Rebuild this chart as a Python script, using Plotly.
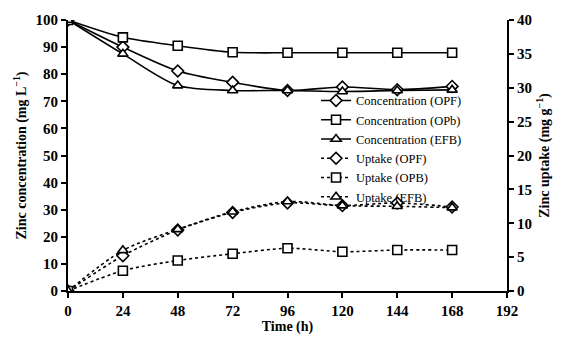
import plotly.graph_objects as go

time_h = [0, 24, 48, 72, 96, 120, 144, 168]
conc_opf = [100, 90, 81.2, 77, 74, 75.3, 74.3, 75.5]
conc_opb = [100, 93.6, 90.5, 88.1, 87.9, 87.9, 87.9, 87.9]
conc_efb = [100, 87.5, 75.8, 74, 74, 73.6, 74, 74.2]
upt_opf = [0, 5.2, 9.0, 11.6, 13.0, 12.6, 13.0, 12.4]
upt_opb = [0, 3.0, 4.5, 5.5, 6.3, 5.8, 6.05, 6.05]
upt_efb = [0, 6.0, 9.1, 11.7, 13.2, 12.6, 12.5, 12.3]

x_ticks = [0, 24, 48, 72, 96, 120, 144, 168, 192]
y_ticks = [0, 10, 20, 30, 40, 50, 60, 70, 80, 90, 100]
y2_ticks = [0, 5, 10, 15, 20, 25, 30, 35, 40]

FONT = "Liberation Serif"
fig = go.Figure()

def add(name, y, symbol, dash, axis):
    fig.add_trace(go.Scatter(
        x=time_h, y=y, name=name, yaxis=axis,
        mode="lines+markers",
        line=dict(color="black", width=1.6, dash=dash, shape="spline", smoothing=0.8),
        marker=dict(symbol=symbol, size=9, color="white", line=dict(color="black", width=1.6)),
    ))

add("Concentration (OPF)", conc_opf, "diamond", "solid", "y")
add("Concentration (OPb)", conc_opb, "square", "solid", "y")
add("Concentration (EFB)", conc_efb, "triangle-up", "solid", "y")
add("Uptake (OPF)", upt_opf, "diamond", "dot", "y2")
add("Uptake (OPB)", upt_opb, "square", "dot", "y2")
add("Uptake (EFB)", upt_efb, "triangle-up", "dot", "y2")

axis_common = dict(
    showline=True, linecolor="black", linewidth=2,
    ticks="outside", ticklen=5, tickwidth=2, tickcolor="black",
    showgrid=False, zeroline=False,
    tickfont=dict(family=FONT, size=15, color="black"),
)
title_font = dict(family=FONT, size=14, color="black")

def bold(vals):
    return ["<b>%d</b>" % v for v in vals]

fig.update_layout(
    width=562, height=341,
    margin=dict(l=68, r=53, t=20, b=46),
    plot_bgcolor="white", paper_bgcolor="white",
    font=dict(family=FONT, color="black"),
    xaxis=dict(range=[0, 192], tickvals=x_ticks, ticktext=bold(x_ticks), **axis_common,
               title=dict(text="<b>Time (h)</b>", font=title_font, standoff=0)),
    yaxis=dict(range=[0, 100], tickvals=y_ticks, ticktext=bold(y_ticks), **axis_common,
               title=dict(text="<b>Zinc concentration (mg L<sup>−1</sup>)</b>", font=title_font, standoff=6)),
    yaxis2=dict(range=[0, 40], tickvals=y2_ticks, ticktext=bold(y2_ticks), overlaying="y", side="right", **axis_common,
                title=dict(text="<b>Zinc uptake (mg g<sup>−1</sup>)</b>", font=title_font, standoff=8)),
    legend=dict(x=0.565, y=0.757, xanchor="left", yanchor="top",
                bgcolor="rgba(0,0,0,0)", font=dict(family=FONT, size=12.5, color="black"),
                tracegroupgap=0, itemwidth=30),
    showlegend=True,
)

fig.write_html("out.html")
